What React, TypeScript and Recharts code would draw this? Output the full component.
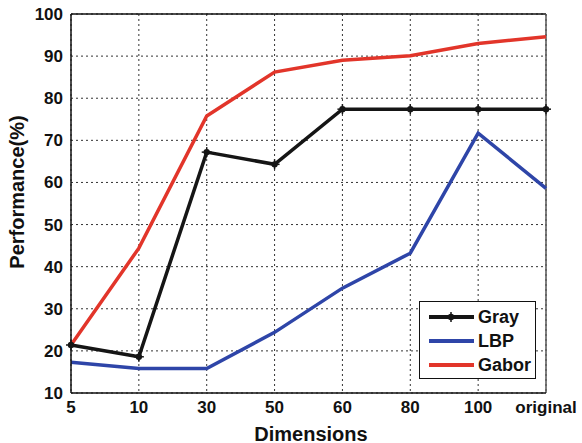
import { LineChart, Line, XAxis, YAxis, CartesianGrid, ReferenceLine } from 'recharts'

// values
const dims = ['5', '10', '30', '50', '60', '80', '100', 'original']
const gray = [21.4, 18.6, 67.2, 64.3, 77.4, 77.4, 77.4, 77.4]
const lbp = [17.3, 15.8, 15.8, 24.4, 34.9, 43.2, 71.7, 58.6]
const gabor = [21.4, 44.4, 75.8, 86.2, 89.0, 90.1, 93.0, 94.6]
const yTicks = [10, 20, 30, 40, 50, 60, 70, 80, 90, 100]

const GRAY_COLOR = '#151515'
const LBP_COLOR = '#2e45a8'
const GABOR_COLOR = '#e2352a'
const FONT = '"Liberation Sans", Arial, sans-serif'

const data = dims.map((d, i) => ({ dim: d, Gray: gray[i], LBP: lbp[i], Gabor: gabor[i] }))

const series = [
  { key: 'Gray', color: GRAY_COLOR, marker: true },
  { key: 'LBP', color: LBP_COLOR, marker: false },
  { key: 'Gabor', color: GABOR_COLOR, marker: false },
]

const StarDot = (props: any) => {
  const { cx, cy } = props
  if (cx == null || cy == null) return null
  return (
    <g>
      <circle cx={cx} cy={cy} r={3.2} fill={GRAY_COLOR} />
      <line x1={cx} y1={cy - 5} x2={cx} y2={cy + 5} stroke={GRAY_COLOR} strokeWidth={1.5} />
      <line x1={cx - 5} y1={cy} x2={cx + 5} y2={cy} stroke={GRAY_COLOR} strokeWidth={1.5} />
    </g>
  )
}

// legend drawn outside the chart so it doesn't shrink the plot area
const LegendBox = () => (
  <div
    style={{
      position: 'absolute',
      left: 419,
      top: 301,
      width: 117,
      height: 78,
      border: '1.5px solid #111',
      background: '#fff',
      boxSizing: 'border-box',
      paddingTop: 3,
      fontFamily: FONT,
    }}
  >
    {series.map(s => (
      <div key={s.key} style={{ display: 'flex', alignItems: 'center', height: 24 }}>
        <svg width={58} height={14} style={{ flex: 'none' }}>
          <line x1={9} y1={7} x2={54} y2={7} stroke={s.color} strokeWidth={4} />
          {s.marker && <StarDot cx={31} cy={7} />}
        </svg>
        <span style={{ fontSize: 18, fontWeight: 'bold', color: '#111' }}>{s.key}</span>
      </div>
    ))}
  </div>
)

export default function App() {
  const tick = { fill: '#111', fontSize: 17, fontWeight: 'bold', fontFamily: FONT }
  return (
    <div style={{ position: 'absolute', left: 0, top: 0, width: 582, height: 443, background: '#fff' }}>
      <LineChart width={582} height={443} data={data} margin={{ top: 14, right: 36, bottom: 20, left: 11 }}>
        <CartesianGrid stroke="#333" strokeDasharray="2 3" strokeWidth={1} />
        <XAxis
          dataKey="dim"
          height={30}
          tick={tick}
          tickLine={false}
          axisLine={{ stroke: '#111', strokeWidth: 1.5 }}
          interval={0}
        />
        <YAxis
          width={60}
          domain={[10, 100]}
          ticks={yTicks}
          tick={tick}
          tickLine={false}
          axisLine={{ stroke: '#111', strokeWidth: 1.5 }}
        />
        <ReferenceLine y={100} stroke="#111" strokeWidth={1.5} />
        <ReferenceLine x="original" stroke="#555" strokeWidth={1.5} />
        <Line dataKey="LBP" stroke={LBP_COLOR} strokeWidth={3.5} dot={false} isAnimationActive={false} />
        <Line dataKey="Gabor" stroke={GABOR_COLOR} strokeWidth={3.5} dot={false} isAnimationActive={false} />
        <Line dataKey="Gray" stroke={GRAY_COLOR} strokeWidth={3.5} dot={<StarDot />} isAnimationActive={false} />
      </LineChart>
      <LegendBox />
      <div
        style={{
          position: 'absolute',
          left: 17,
          top: 192,
          transform: 'translate(-50%, -50%) rotate(-90deg)',
          fontFamily: FONT,
          fontWeight: 'bold',
          fontSize: 20,
          color: '#111',
          whiteSpace: 'nowrap',
        }}
      >
        Performance(%)
      </div>
      <div
        style={{
          position: 'absolute',
          left: 311,
          top: 434,
          transform: 'translate(-50%, -50%)',
          fontFamily: FONT,
          fontWeight: 'bold',
          fontSize: 20,
          color: '#111',
          whiteSpace: 'nowrap',
        }}
      >
        Dimensions
      </div>
    </div>
  )
}
